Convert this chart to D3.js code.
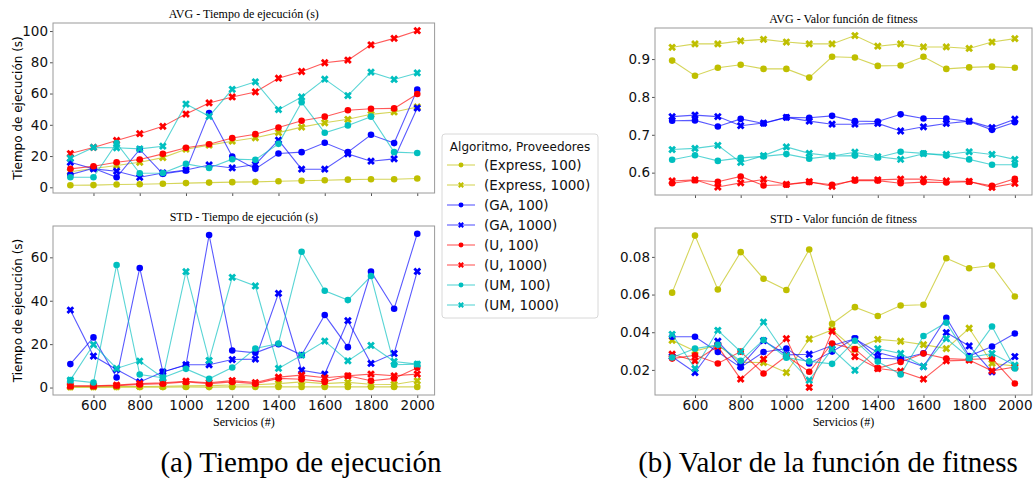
<!DOCTYPE html>
<html>
<head>
<meta charset="utf-8">
<script src="https://cdn.jsdelivr.net/npm/d3@7"></script>
<style>
  body { margin: 0; background: #fff; }
  svg { display: block; }
</style>
</head>
<body>
<svg id="fig" width="1033" height="479"></svg>
<script>
// valores
var servicios = [500, 600, 700, 800, 900, 1000, 1100, 1200, 1300, 1400, 1500, 1600, 1700, 1800, 1900, 2000]
var xTicks = [600, 800, 1000, 1200, 1400, 1600, 1800, 2000]

var seriesNames = ["(Express, 100)", "(Express, 1000)", "(GA, 100)", "(GA, 1000)",
                   "(U, 100)", "(U, 1000)", "(UM, 100)", "(UM, 1000)"]
var seriesAlg  = ["Express", "Express", "GA", "GA", "U", "U", "UM", "UM"]
var seriesProv = [100, 1000, 100, 1000, 100, 1000, 100, 1000]

var avgTiempo = [
  [1.3, 1.4, 1.8, 2.0, 2.3, 2.7, 3.0, 3.3, 3.5, 3.9, 4.2, 4.5, 4.9, 5.2, 5.2, 5.6],
  [10, 12, 14, 16, 19, 24.4, 27, 29.5, 31.7, 35, 38.5, 41.3, 43.5, 46.7, 48.2, 51.4],
  [8.1, 12.2, 6.4, 24.2, 8.6, 10.7, 47.5, 19.7, 11.8, 21.6, 22.5, 28.5, 22.5, 33.6, 28.3, 62.5],
  [16, 11.8, 10.3, 6.4, 9.2, 11.1, 14.3, 12.4, 14.6, 30.2, 11.6, 11.6, 21.4, 16.7, 18.2, 50.7],
  [11.8, 13.5, 16, 17.8, 21.4, 25.3, 27.6, 31.5, 34, 38.3, 42.6, 45.2, 49.3, 50.3, 50.5, 59.7],
  [21.6, 25.5, 30, 34.3, 39, 46.9, 54, 57.8, 61, 69.8, 74.1, 79.7, 81.4, 91.2, 95.3, 100.2],
  [6.4, 6.4, 28.3, 9, 9.2, 15, 12.4, 18, 17.6, 27.8, 54.4, 34.9, 39.6, 45.2, 22.5, 22],
  [18.6, 25.5, 25.3, 24.6, 26.3, 53.3, 45.4, 62.7, 67.5, 49.7, 57.8, 69.2, 58.7, 73.7, 69, 73.2]
]

var stdTiempo = [
  [0.1, 0.2, 0.2, 0.2, 0.2, 0.3, 0.2, 0.3, 0.3, 0.3, 0.3, 0.3, 0.3, 0.3, 0.3, 0.3],
  [0.3, 0.3, 0.4, 0.5, 0.6, 0.8, 0.9, 1.2, 1.3, 1.8, 2.6, 1.8, 2.4, 1.5, 1.4, 3.1],
  [10.8, 23.1, 4.6, 55.1, 7.2, 10.3, 70.3, 17.1, 16, 20, 15, 33.4, 18.6, 53.4, 36.3, 70.9],
  [35.7, 14.5, 8.3, 2.6, 7.2, 10.5, 10.5, 12.9, 13.1, 43.4, 8, 6.2, 30.8, 11.1, 15.7, 53.5],
  [0.6, 0.6, 0.9, 1.4, 1.8, 2.6, 1.8, 2.6, 1.8, 4.2, 3.8, 2.6, 5.4, 3.1, 4.2, 9.1],
  [0.8, 0.8, 1.1, 1.8, 2.2, 2.9, 2.2, 3.2, 2.3, 4.8, 5.7, 4.5, 5.4, 6.2, 5.4, 6.2],
  [3.4, 2.3, 56.5, 6, 4.5, 8.6, 4, 9.2, 18, 20.3, 62.6, 44.6, 40.3, 51.4, 10.5, 10.8],
  [3.4, 19.8, 8.8, 12.2, 4.5, 53.4, 12.5, 50.8, 46.8, 8.8, 14.9, 21.4, 12.3, 19.4, 12, 10.8]
]

var avgFitness = [
  [0.896, 0.856, 0.877, 0.885, 0.874, 0.874, 0.851, 0.906, 0.904, 0.882, 0.883, 0.906, 0.874, 0.878, 0.880, 0.877],
  [0.931, 0.940, 0.940, 0.948, 0.952, 0.945, 0.940, 0.940, 0.962, 0.934, 0.940, 0.932, 0.932, 0.928, 0.945, 0.954],
  [0.737, 0.738, 0.722, 0.742, 0.730, 0.746, 0.745, 0.750, 0.736, 0.735, 0.754, 0.743, 0.743, 0.735, 0.713, 0.733],
  [0.748, 0.752, 0.748, 0.724, 0.731, 0.746, 0.736, 0.728, 0.728, 0.730, 0.710, 0.721, 0.730, 0.736, 0.719, 0.741],
  [0.572, 0.580, 0.576, 0.590, 0.566, 0.568, 0.575, 0.568, 0.579, 0.579, 0.572, 0.575, 0.574, 0.576, 0.565, 0.584],
  [0.578, 0.581, 0.562, 0.573, 0.582, 0.569, 0.576, 0.564, 0.581, 0.581, 0.583, 0.583, 0.578, 0.577, 0.561, 0.572],
  [0.634, 0.646, 0.631, 0.639, 0.643, 0.649, 0.637, 0.644, 0.645, 0.640, 0.655, 0.651, 0.645, 0.635, 0.621, 0.621],
  [0.661, 0.664, 0.672, 0.627, 0.645, 0.668, 0.651, 0.644, 0.654, 0.642, 0.635, 0.650, 0.648, 0.655, 0.648, 0.635]
]

var stdFitness = [
  [0.061, 0.0913, 0.0627, 0.0825, 0.0684, 0.0624, 0.0839, 0.0445, 0.0533, 0.0486, 0.0542, 0.0546, 0.0793, 0.074, 0.0754, 0.059],
  [0.0357, 0.0300, 0.0332, 0.0240, 0.0239, 0.0186, 0.0364, 0.0412, 0.0309, 0.0362, 0.0352, 0.0334, 0.0313, 0.0421, 0.0235, 0.0220],
  [0.0376, 0.0376, 0.0295, 0.0213, 0.0295, 0.0313, 0.0234, 0.0297, 0.0368, 0.0262, 0.0258, 0.0288, 0.0477, 0.0274, 0.0324, 0.0393],
  [0.0270, 0.0186, 0.0352, 0.0220, 0.0355, 0.0280, 0.0283, 0.0330, 0.0365, 0.0292, 0.0260, 0.0218, 0.0398, 0.0327, 0.0189, 0.0271],
  [0.0260, 0.0278, 0.0234, 0.0297, 0.0181, 0.0274, 0.0190, 0.0340, 0.0310, 0.0208, 0.0242, 0.0287, 0.0260, 0.0255, 0.0261, 0.0128],
  [0.0283, 0.0248, 0.0325, 0.0151, 0.0257, 0.0366, 0.0107, 0.0405, 0.0271, 0.0207, 0.0193, 0.0151, 0.0248, 0.0252, 0.0195, 0.0215],
  [0.0266, 0.0313, 0.0333, 0.0248, 0.0359, 0.0265, 0.0245, 0.0232, 0.0355, 0.0244, 0.0176, 0.0380, 0.0451, 0.0262, 0.0430, 0.0207],
  [0.0389, 0.0207, 0.0410, 0.0297, 0.0454, 0.0275, 0.0145, 0.0310, 0.0198, 0.0313, 0.0287, 0.0218, 0.0366, 0.0265, 0.0287, 0.0225]
]

var yTicksAvgTiempo  = [0, 20, 40, 60, 80, 100]
var yTicksStdTiempo  = [0, 20, 40, 60]
var yTicksAvgFitness = [0.6, 0.7, 0.8, 0.9]
var yTicksStdFitness = [0.02, 0.04, 0.06, 0.08]

// colores tipo matplotlib ('y', 'b', 'r', 'c')
var color = d3.scaleOrdinal()
  .domain(["Express", "GA", "U", "UM"])
  .range(["#bfbf00", "#0000ff", "#ff0000", "#00bfbf"])

var sansFont  = "'DejaVu Sans', sans-serif"
var serifFont = "'Liberation Serif', 'Times New Roman', serif"

var svg = d3.select("#fig")

// X relleno (marcador 'X' de matplotlib)
function xMarker(a, w) {
  var pts = [[w, a], [w, w], [a, w], [a, -w], [w, -w], [w, -a], [-w, -a], [-w, -w], [-a, -w], [-a, w], [-w, w], [-w, a]]
  var c = Math.SQRT1_2
  return "M" + pts.map(p => [(p[0] - p[1]) * c, (p[0] + p[1]) * c].map(v => v.toFixed(2)).join(",")).join("L") + "Z"
}
var xPath = xMarker(4.1, 1.4)

function drawMarker(g, prov, fill) {
  if (prov == 100) {
    g.append("circle").attr("r", 3.3).attr("fill", fill)
  } else {
    g.append("path").attr("d", xPath).attr("fill", fill)
  }
}

var panels = [
  { data: avgTiempo,  x0: 53,  x1: 434.6, y0: 23,  y1: 193, ticks: yTicksAvgTiempo,  fmt: d3.format("d"),
    title: "AVG - Tiempo de ejecución (s)", ylabel: true, xlabels: false },
  { data: stdTiempo,  x0: 53,  x1: 434.6, y0: 226, y1: 395, ticks: yTicksStdTiempo,  fmt: d3.format("d"),
    title: "STD - Tiempo de ejecución (s)", ylabel: true, xlabels: true },
  { data: avgFitness, x0: 655, x1: 1032,  y0: 28,  y1: 195, ticks: yTicksAvgFitness, fmt: d3.format(".1f"),
    title: "AVG - Valor función de fitness", ylabel: false, xlabels: false },
  { data: stdFitness, x0: 655, x1: 1032,  y0: 228, y1: 395, ticks: yTicksStdFitness, fmt: d3.format(".2f"),
    title: "STD - Valor función de fitness", ylabel: false, xlabels: true }
]

panels.forEach(function (p) {
  var xr = d3.extent(servicios), xm = (xr[1] - xr[0]) * 0.05
  var x = d3.scaleLinear().domain([xr[0] - xm, xr[1] + xm]).range([p.x0, p.x1])

  var all = p.data.flat()
  var yr = d3.extent(all), ym = (yr[1] - yr[0]) * 0.05
  var y = d3.scaleLinear().domain([yr[0] - ym, yr[1] + ym]).range([p.y1, p.y0])

  var g = svg.append("g")

  g.append("g")
    .attr("transform", `translate(0,${p.y1})`)
    .call(d3.axisBottom(x).tickValues(xTicks).tickSize(3).tickPadding(2)
      .tickFormat(p.xlabels ? d3.format("d") : ""))
  g.append("g")
    .attr("transform", `translate(${p.x0},0)`)
    .call(d3.axisLeft(y).tickValues(p.ticks).tickSize(3).tickPadding(2).tickFormat(p.fmt))

  g.selectAll(".domain").remove()
  g.selectAll(".tick line").attr("stroke", "#555")
  g.selectAll(".tick text")
    .style("font-family", sansFont)
    .style("font-size", "13.5px")
    .attr("fill", "#111")

  g.append("rect")
    .attr("x", p.x0).attr("y", p.y0)
    .attr("width", p.x1 - p.x0).attr("height", p.y1 - p.y0)
    .attr("fill", "none")
    .attr("stroke", "#9a9a9a")
    .attr("stroke-width", 1)

  var line = d3.line()
    .x((d, i) => x(servicios[i]))
    .y(d => y(d))

  p.data.forEach(function (vals, s) {
    var c = color(seriesAlg[s])
    g.append("path")
      .datum(vals)
      .attr("d", line)
      .attr("fill", "none")
      .attr("stroke", c)
      .attr("stroke-opacity", 0.65)
      .attr("stroke-width", 1.1)

    g.selectAll(null)
      .data(vals)
      .enter().append("g")
      .attr("transform", (d, i) => `translate(${x(servicios[i])},${y(d)})`)
      .each(function () { drawMarker(d3.select(this), seriesProv[s], c) })
  })

  g.append("text")
    .attr("x", (p.x0 + p.x1) / 2)
    .attr("y", p.y0 - 5)
    .attr("text-anchor", "middle")
    .style("font-family", serifFont)
    .style("font-size", "12px")
    .text(p.title)

  if (p.xlabels) {
    g.append("text")
      .attr("x", (p.x0 + p.x1) / 2)
      .attr("y", p.y1 + 31)
      .attr("text-anchor", "middle")
      .style("font-family", serifFont)
      .style("font-size", "12px")
      .text("Servicios (#)")
  }

  if (p.ylabel) {
    g.append("text")
      .attr("transform", `translate(22,${(p.y0 + p.y1) / 2}) rotate(-90)`)
      .attr("text-anchor", "middle")
      .style("font-family", sansFont)
      .style("font-size", "12px")
      .text("Tiempo de ejecución (s)")
  }
})

// leyenda
var legend = svg.append("g")
legend.append("rect")
  .attr("x", 442).attr("y", 134)
  .attr("width", 156).attr("height", 184)
  .attr("rx", 3)
  .attr("fill", "#fff")
  .attr("stroke", "#d8d8d8")

legend.append("text")
  .attr("x", 520).attr("y", 151)
  .attr("text-anchor", "middle")
  .style("font-family", sansFont)
  .style("font-size", "12px")
  .attr("fill", "#111")
  .text("Algoritmo, Proveedores")

var items = legend.selectAll(".item")
  .data(seriesNames)
  .enter().append("g")
  .attr("class", "item")
  .attr("transform", (d, i) => `translate(0,${165 + i * 20})`)

items.append("line")
  .attr("x1", 447).attr("x2", 475)
  .attr("stroke", (d, i) => color(seriesAlg[i]))
  .attr("stroke-opacity", 0.65)
  .attr("stroke-width", 1.1)

items.each(function (d, i) {
  var m = d3.select(this).append("g")
  drawMarker(m, seriesProv[i], color(seriesAlg[i]))
  m.attr("transform", "translate(461,0) scale(0.75)")
})

items.append("text")
  .attr("x", 484)
  .attr("dy", "0.35em")
  .style("font-family", sansFont)
  .style("font-size", "13.5px")
  .attr("fill", "#111")
  .text(d => d)

// subtitulos
svg.append("text")
  .attr("x", 301).attr("y", 472)
  .attr("text-anchor", "middle")
  .style("font-family", serifFont)
  .style("font-size", "29px")
  .text("(a) Tiempo de ejecución")

svg.append("text")
  .attr("x", 828).attr("y", 472)
  .attr("text-anchor", "middle")
  .style("font-family", serifFont)
  .style("font-size", "29px")
  .text("(b) Valor de la función de fitness")
</script>
</body>
</html>
